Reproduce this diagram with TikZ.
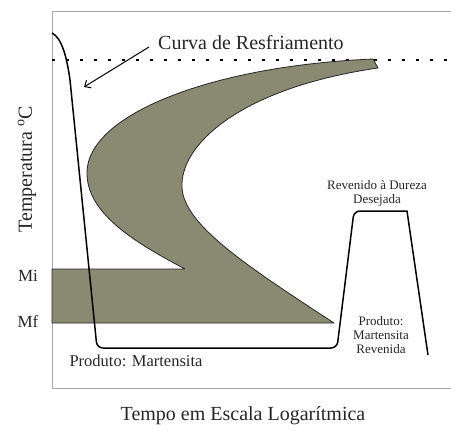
\documentclass[tikz,border=0pt]{standalone}
\usepackage{fontspec}
\setmainfont{Liberation Serif}
\usetikzlibrary{arrows.meta}
\definecolor{perlita}{RGB}{138,137,114}
\begin{document}
\begin{tikzpicture}[x=1pt,y=-1pt,>={Straight Barb[length=5pt,width=9pt]}]

\tikzset{rotulo/.style={inner sep=1pt,text=black!85,font=\fontsize{20}{24}\selectfont},}
\tikzset{rotulo2/.style={inner sep=1pt,text=black!85,font=\fontsize{17}{20}\selectfont},}
\tikzset{rotulo3/.style={inner sep=1pt,text=black!85,align=center,font=\fontsize{13}{14}\selectfont},}
\tikzset{curva/.style={line width=1.5pt,line join=round},}
\tikzset{regiao/.style={fill=perlita,draw=black!85,line width=0.8pt,line join=round},}

\useasboundingbox (0,0) rectangle (451,431);

%MOLDURA
\draw[black!35,line width=0.8pt] (451,11) -- (52,11) -- (52,388) -- (451,388);

%LINHA PONTILHADA
\draw[line width=1.5pt,dash pattern=on 3pt off 11pt] (52,60) -- (451,60);

%REGIAO DE TRANSFORMACAO
\draw[regiao] (185,269) -- (52,269) -- (52,323) -- (334,323)
  .. controls (250,268) and (183,225) .. (182,187)
  .. controls (180,145) and (240,88) .. (378,68)
  -- (373,59)
  .. controls (210,66) and (88,115) .. (87,172)
  .. controls (86,215) and (140,245) .. (185,269) -- cycle;

%CURVA DE RESFRIAMENTO
\draw[curva] (52,33) .. controls (62,38) and (67,58) .. (70,80)
  [rounded corners=6pt] -- (97,348) -- (337,348) -- (354,211)
  [sharp corners] -- (407,211) -- (428,355);

%ROTULOS
\draw (157,43) node [rotulo,anchor=west] (curva) {Curva de Resfriamento};
\coordinate (seta) at (84,87);
\draw[->,line width=1pt] ([xshift=-8pt,yshift=-4pt]curva.west) -- (seta);

\draw (27,169) node [rotulo,rotate=90] (temp) {Temperatura \textsuperscript{o}C};
\draw (28,276) node [rotulo2] (mi) {Mi};
\draw (28,322) node [rotulo2] (mf) {Mf};
\draw (136,361) node [rotulo2,font=\fontsize{16.5}{20}\selectfont] (prod1) {Produto: Martensita};
\draw (377,193) node [rotulo3] (reven) {Revenido à Dureza\\Desejada};
\draw (381,335) node [rotulo3] (prod2) {Produto:\\Martensita\\Revenida};
\draw (243,416) node [rotulo] (tempo) {Tempo em Escala Logarítmica};

\end{tikzpicture}
\end{document}
